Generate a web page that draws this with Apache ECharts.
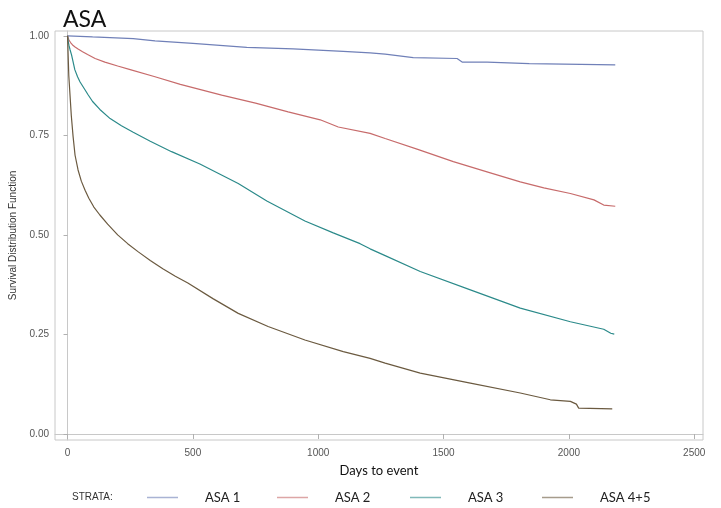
<!DOCTYPE html>
<html>
<head>
<meta charset="utf-8">
<script src="https://cdn.jsdelivr.net/npm/echarts@6/dist/echarts.min.js"></script>
<style>html,body{margin:0;padding:0;background:#fff;}#c{width:721px;height:508px;}</style>
</head>
<body>
<div id="c"></div>
<script>
var seriesNames = ['ASA 1', 'ASA 2', 'ASA 3', 'ASA 4+5'];
var xTicks = [0, 500, 1000, 1500, 2000, 2500];
var yTicks = [0, 0.25, 0.5, 0.75, 1.0];

var asa1Days = [0, 100, 262, 349, 500, 715, 900, 1100, 1207, 1267, 1379, 1554, 1574, 1674, 1678, 1842, 1846, 2185];
var asa1Surv = [1.0, 0.997, 0.993, 0.987, 0.981, 0.971, 0.967, 0.961, 0.957, 0.954, 0.945, 0.943, 0.934, 0.934, 0.930, 0.930, 0.927, 0.927];

var asa2Days = [0, 5, 12, 20, 30, 42, 60, 80, 110, 149, 200, 250, 349, 450, 615, 750, 880, 1008, 1080, 1207, 1267, 1400, 1539, 1680, 1806, 1900, 2006, 2100, 2139, 2185];
var asa2Surv = [1.0, 0.990, 0.983, 0.977, 0.972, 0.967, 0.960, 0.953, 0.943, 0.934, 0.924, 0.915, 0.897, 0.878, 0.851, 0.831, 0.809, 0.789, 0.771, 0.755, 0.742, 0.714, 0.684, 0.657, 0.633, 0.618, 0.604, 0.588, 0.575, 0.572];

var asa3Days = [0, 3, 6, 10, 16, 22, 29, 40, 50, 62, 82, 100, 129, 170, 215, 262, 330, 415, 528, 681, 795, 947, 1060, 1167, 1207, 1267, 1407, 1607, 1806, 2006, 2139, 2167, 2181];
var asa3Surv = [1.0, 0.985, 0.975, 0.965, 0.952, 0.935, 0.915, 0.897, 0.884, 0.872, 0.852, 0.835, 0.815, 0.792, 0.774, 0.758, 0.735, 0.709, 0.678, 0.629, 0.585, 0.535, 0.505, 0.478, 0.465, 0.448, 0.408, 0.362, 0.316, 0.282, 0.263, 0.253, 0.251];

var asa45Days = [0, 2, 5, 9, 15, 22, 30, 42, 55, 70, 85, 105, 129, 160, 200, 240, 281, 330, 380, 430, 480, 580, 681, 800, 947, 1100, 1207, 1267, 1407, 1607, 1806, 1926, 2006, 2030, 2039, 2173];
var asa45Surv = [1.0, 0.96, 0.90, 0.86, 0.80, 0.748, 0.70, 0.663, 0.635, 0.612, 0.592, 0.570, 0.550, 0.527, 0.500, 0.478, 0.458, 0.436, 0.415, 0.396, 0.379, 0.340, 0.303, 0.270, 0.236, 0.207, 0.190, 0.178, 0.153, 0.128, 0.103, 0.086, 0.082, 0.075, 0.065, 0.063];

var colors = ['#7080b8', '#c76b6b', '#2b8a8a', '#6b5a40'];

function pairs(d, s) { return d.map(function (v, i) { return [v, s[i]]; }); }
var allData = [pairs(asa1Days, asa1Surv), pairs(asa2Days, asa2Surv), pairs(asa3Days, asa3Surv), pairs(asa45Days, asa45Surv)];

var chart = echarts.init(document.getElementById('c'), null, {renderer: 'canvas'});
var legendLefts = [142, 272, 405, 537];
var legends = seriesNames.map(function (n, i) {
  return {
    data: [n], left: legendLefts[i], top: 486, orient: 'horizontal',
    icon: 'rect', itemWidth: 31, itemHeight: 1.5,
    itemStyle: {opacity: 0.6},
    textStyle: {fontFamily: 'Lato', fontSize: 13, color: '#222', padding: [0, 0, 0, 22]},
    selectedMode: false
  };
});

chart.setOption({
  animation: false,
  color: colors,
  title: {text: 'ASA', left: 58, top: 3, textStyle: {fontFamily: 'Lato', fontSize: 23, fontWeight: 'normal', color: '#111'}},
  legend: legends,
  graphic: [{type: 'text', left: 72, top: 492, style: {text: 'STRATA:', fontFamily: 'Liberation Sans', fontSize: 10, fill: '#333'}}],
  grid: {left: 55, right: 18, top: 31, bottom: 68, show: true, borderColor: '#c8c8c8', borderWidth: 1},
  xAxis: {
    type: 'value', min: -50, max: 2535,
    name: 'Days to event', nameLocation: 'middle', nameGap: 24,
    nameTextStyle: {fontFamily: 'Lato', fontSize: 13, color: '#111'},
    axisLine: {show: true, lineStyle: {color: '#c8c8c8'}},
    axisTick: {show: true, inside: false, length: 5, lineStyle: {color: '#b0b0b0'}, customValues: xTicks},
    axisLabel: {customValues: xTicks, fontFamily: 'Liberation Sans', fontSize: 10, color: '#555', margin: 8,
      formatter: function (v) { return String(v); }},
    splitLine: {show: false}
  },
  yAxis: {
    type: 'value', min: -0.015, max: 1.012,
    name: 'Survival Distribution Function', nameLocation: 'middle', nameGap: 37,
    nameTextStyle: {fontFamily: 'Liberation Sans', fontSize: 10, color: '#333'},
    axisLine: {show: true, lineStyle: {color: '#c8c8c8'}},
    axisTick: {show: true, inside: false, length: 4, lineStyle: {color: '#b0b0b0'}, customValues: yTicks},
    axisLabel: {customValues: yTicks, fontFamily: 'Liberation Sans', fontSize: 10, color: '#555', margin: 6,
      formatter: function (v) { return v.toFixed(2); }},
    splitLine: {show: false}
  },
  series: allData.map(function (d, i) {
    return {name: seriesNames[i], type: 'line', data: d, symbol: 'none', showSymbol: false,
      lineStyle: {width: 1.2, color: colors[i]}, itemStyle: {color: colors[i]}};
  })
});
</script>
</body>
</html>
